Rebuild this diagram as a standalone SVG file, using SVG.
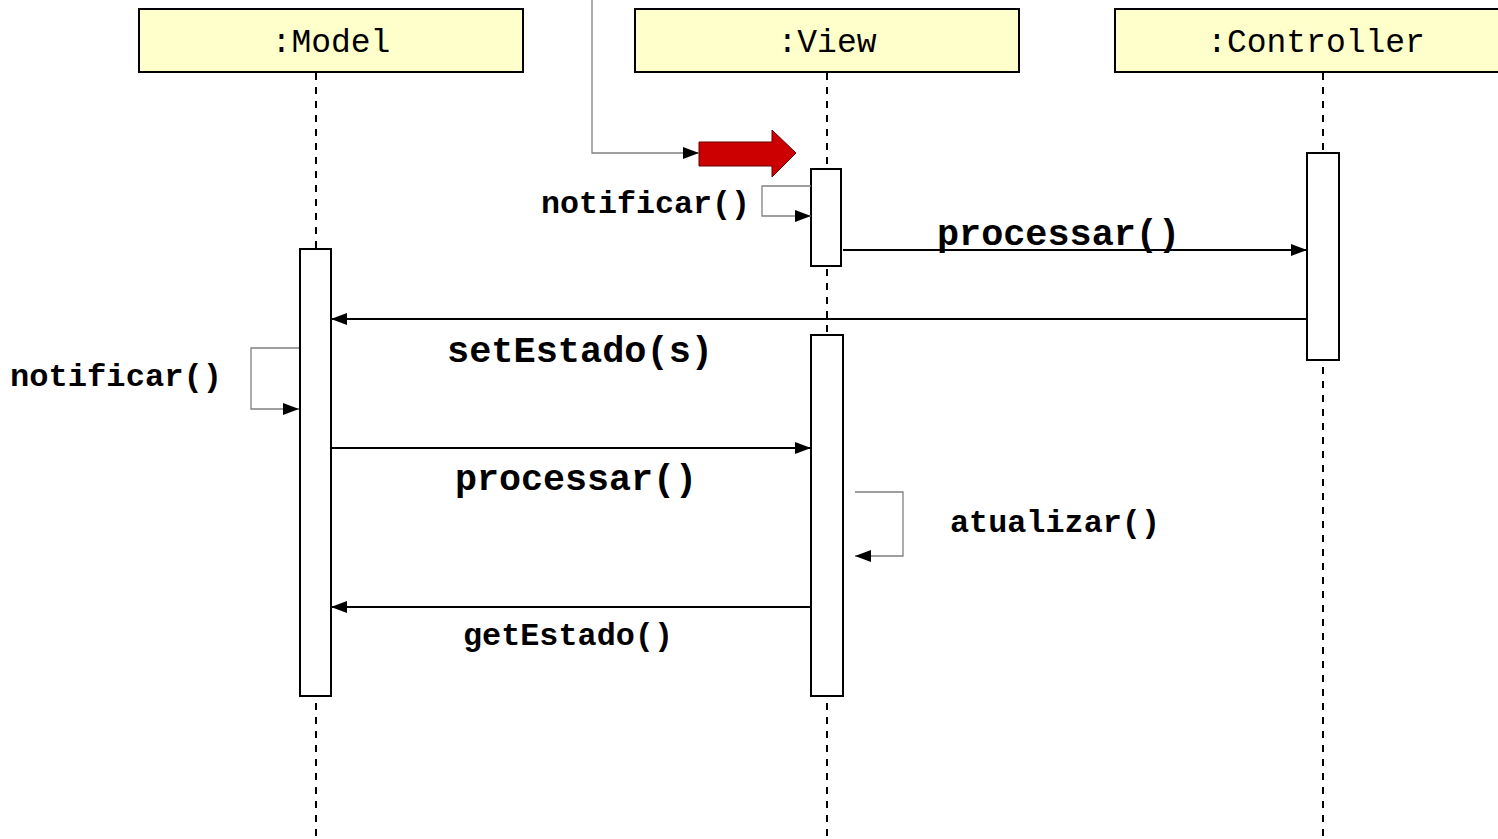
<svg xmlns="http://www.w3.org/2000/svg" width="1498" height="839" viewBox="0 0 1498 839">
<style>
.hdr{fill:#FFFFCC;stroke:#000;stroke-width:2}
.hdrt{font-family:"Liberation Mono","Courier New",monospace;font-size:33px;fill:#000;text-anchor:middle}
.life{stroke:#000;stroke-width:2;stroke-dasharray:7 7;fill:none}
.act{fill:#fff;stroke:#000;stroke-width:2}
.msg{stroke:#000;stroke-width:2;fill:none}
.self{stroke:#808080;stroke-width:1.3;fill:none}
.lbl{font-family:"Liberation Mono","Courier New",monospace;font-weight:bold;fill:#000}
.s{font-size:31px}
.b{font-size:36px}
</style>
<defs>
<marker id="ah" viewBox="0 0 16 12" refX="16" refY="6" markerWidth="16" markerHeight="12" markerUnits="userSpaceOnUse" orient="auto">
<path d="M0,0 L16,6 L0,12 Z" fill="#000"/>
</marker>
</defs>
<rect width="1498" height="839" fill="#fff"/>
<g id="lifelines">
<line class="life" x1="316" y1="73" x2="316" y2="839"/>
<line class="life" x1="827" y1="73" x2="827" y2="839"/>
<line class="life" x1="1323" y1="73" x2="1323" y2="839"/>
</g>
<g id="model">
<rect class="hdr" x="139" y="9" width="384" height="63"/>
<text class="hdrt" x="331" y="52">:Model</text>
</g>
<g id="view">
<rect class="hdr" x="635" y="9" width="384" height="63"/>
<text class="hdrt" x="827" y="52">:View</text>
</g>
<g id="controller">
<rect class="hdr" x="1115" y="9" width="390" height="63"/>
<text class="hdrt" x="1316" y="52">:Controller</text>
</g>
<g id="activations">
<rect id="model-act" class="act" x="300" y="249" width="31" height="447"/>
<rect id="view-act1" class="act" x="811" y="169" width="30" height="97"/>
<rect id="view-act2" class="act" x="811" y="335" width="32" height="361"/>
<rect id="controller-act" class="act" x="1307" y="153" width="32" height="207"/>
</g>
<g id="start-arrow">
<polygon points="699,142 772,142 772,130 796,153 772,177 772,166 699,166" fill="#CC0000" stroke="#600" stroke-width="1"/>
</g>
<g id="connectors">
<polyline class="self" points="592,0 592,153 699,153" marker-end="url(#ah)"/>
<polyline class="self" points="811,186 762,186 762,216 811,216" marker-end="url(#ah)"/>
<line class="msg" x1="843" y1="250" x2="1307" y2="250" marker-end="url(#ah)"/>
<line class="msg" x1="1307" y1="319" x2="331" y2="319" marker-end="url(#ah)"/>
<polyline class="self" points="299,348 251,348 251,409 299,409" marker-end="url(#ah)"/>
<line class="msg" x1="331" y1="448" x2="811" y2="448" marker-end="url(#ah)"/>
<polyline class="self" points="855,492 903,492 903,556 855,556" marker-end="url(#ah)"/>
<line class="msg" x1="811" y1="607" x2="331" y2="607" marker-end="url(#ah)"/>
</g>
<g id="labels">
<text class="lbl s" x="541" y="213" textLength="209" lengthAdjust="spacingAndGlyphs">notificar()</text>
<text class="lbl b" x="937" y="245" textLength="243" lengthAdjust="spacingAndGlyphs">processar()</text>
<text class="lbl b" x="447" y="362" textLength="266" lengthAdjust="spacingAndGlyphs">setEstado(s)</text>
<text class="lbl s" x="10" y="386" textLength="212" lengthAdjust="spacingAndGlyphs">notificar()</text>
<text class="lbl b" x="455" y="490" textLength="242" lengthAdjust="spacingAndGlyphs">processar()</text>
<text class="lbl s" x="950" y="532" textLength="210" lengthAdjust="spacingAndGlyphs">atualizar()</text>
<text class="lbl s" x="463" y="645" textLength="210" lengthAdjust="spacingAndGlyphs">getEstado()</text>
</g>
</svg>
